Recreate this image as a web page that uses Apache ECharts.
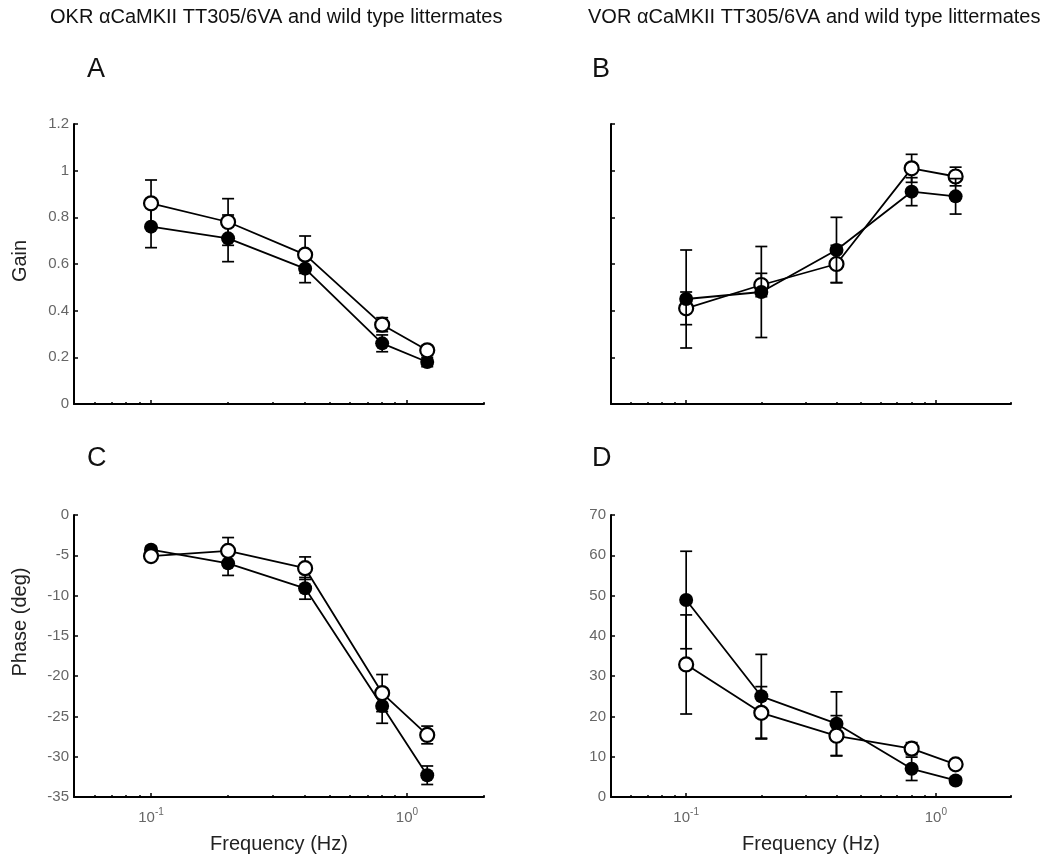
<!DOCTYPE html>
<html>
<head>
<meta charset="utf-8">
<script src="https://cdn.jsdelivr.net/npm/echarts@6/dist/echarts.min.js"></script>
<style>
  html, body { margin: 0; padding: 0; background: #fff; }
  #chart { width: 1055px; height: 859px; }
</style>
</head>
<body>
<div id="chart"></div>
<script>
// stimulus frequencies (Hz)
const freq = [0.1, 0.2, 0.4, 0.8, 1.2];

// A: OKR gain
const okrGainFilled = [0.76, 0.71, 0.58, 0.26, 0.18];
const okrGainFilledErr = [0.09, 0.10, 0.06, 0.036, 0.02];
const okrGainOpen = [0.86, 0.78, 0.64, 0.34, 0.23];
const okrGainOpenErr = [0.10, 0.10, 0.08, 0.03, 0.02];

// B: VOR gain
const vorGainFilled = [0.45, 0.48, 0.66, 0.91, 0.89];
const vorGainFilledErr = [0.21, 0.195, 0.14, 0.06, 0.076];
const vorGainOpen = [0.41, 0.51, 0.60, 1.01, 0.975];
const vorGainOpenErr = [0.07, 0.05, 0.08, 0.06, 0.04];

// C: OKR phase (deg)
const okrPhaseFilled = [-4.3, -6.0, -9.1, -23.7, -32.3];
const okrPhaseFilledErr = [0.4, 1.5, 1.35, 2.15, 1.15];
const okrPhaseOpen = [-5.1, -4.45, -6.6, -22.1, -27.3];
const okrPhaseOpenErr = [0.3, 1.65, 1.4, 2.3, 1.1];

// D: VOR phase (deg)
const vorPhaseFilled = [48.9, 25.0, 18.2, 7.0, 4.1];
const vorPhaseFilledErr = [12.1, 10.4, 7.9, 2.9, 0.8];
const vorPhaseOpen = [32.9, 20.9, 15.2, 12.0, 8.1];
const vorPhaseOpenErr = [12.3, 6.5, 5.0, 1.5, 0.8];

// log axis ticks
const freqMin = 0.05;
const freqMax = 2;
const minorTicks = [0.06, 0.07, 0.08, 0.09, 0.2, 0.3, 0.4, 0.5, 0.6, 0.7, 0.8, 0.9, 2];
const majorTicks = [0.1, 1];

const FONT = '"Liberation Sans", Arial, sans-serif';
const lg = (v) => Math.log10(v);

const chart = echarts.init(document.getElementById('chart'), null, { renderer: 'canvas' });

const grids = [
  { left: 74, top: 124, width: 410, height: 280 },
  { left: 611, top: 124, width: 400, height: 280 },
  { left: 74, top: 515, width: 410, height: 282 },
  { left: 611, top: 515, width: 400, height: 282 },
];

const xAxes = [];
grids.forEach((g, i) => {
  const showLabels = i >= 2;
  xAxes.push({
    type: 'value',
    gridIndex: i,
    position: 'bottom',
    min: lg(freqMin),
    max: lg(freqMax),
    name: showLabels ? 'Frequency (Hz)' : '',
    nameLocation: 'middle',
    nameGap: 37,
    nameTextStyle: { fontFamily: FONT, fontSize: 20, color: '#222' },
    axisLine: { show: true, onZero: false, lineStyle: { color: '#000', width: 2 } },
    axisTick: {
      show: true, inside: true, length: 2,
      customValues: minorTicks.map(lg),
      lineStyle: { color: '#000', width: 1.5 },
    },
    axisLabel: {
      show: showLabels,
      customValues: majorTicks.map(lg),
      margin: 10,
      formatter: (v) => `{b|10}{s|${Math.round(v)}}`,
      rich: {
        b: { fontFamily: FONT, fontSize: 15, color: '#666' },
        s: { fontFamily: FONT, fontSize: 10, color: '#666', padding: [0, 0, 12, 0] },
      },
    },
    splitLine: { show: false },
  });
  // overlay axis carrying the longer decade ticks
  xAxes.push({
    type: 'value',
    gridIndex: i,
    position: 'bottom',
    min: lg(freqMin),
    max: lg(freqMax),
    axisLine: { show: false, onZero: false },
    axisTick: {
      show: true, inside: true, length: 4,
      customValues: majorTicks.map(lg),
      lineStyle: { color: '#000', width: 1.5 },
    },
    axisLabel: { show: false },
    splitLine: { show: false },
  });
});

const yRanges = [
  { min: 0, max: 1.2, interval: 0.2, labels: true },
  { min: 0, max: 1.2, interval: 0.2, labels: false },
  { min: -35, max: 0, interval: 5, labels: true },
  { min: 0, max: 70, interval: 10, labels: true },
];

const yAxes = yRanges.map((r, i) => ({
  type: 'value',
  gridIndex: i,
  min: r.min,
  max: r.max,
  interval: r.interval,
  axisLine: { show: true, onZero: false, lineStyle: { color: '#000', width: 2 } },
  axisTick: { show: true, inside: true, length: 4, lineStyle: { color: '#000', width: 1.5 } },
  axisLabel: {
    show: r.labels, margin: 5, fontFamily: FONT, fontSize: 15, color: '#666',
  },
  splitLine: { show: false },
}));

function errorBar(params, api) {
  const x = api.value(0);
  const top = api.coord([x, api.value(2)]);
  const bot = api.coord([x, api.value(1)]);
  const w = 6;
  const style = { stroke: '#000', lineWidth: 1.7 };
  return {
    type: 'group',
    children: [
      { type: 'line', shape: { x1: top[0], y1: top[1], x2: bot[0], y2: bot[1] }, style },
      { type: 'line', shape: { x1: top[0] - w, y1: top[1], x2: top[0] + w, y2: top[1] }, style },
      { type: 'line', shape: { x1: bot[0] - w, y1: bot[1], x2: bot[0] + w, y2: bot[1] }, style },
    ],
  };
}

function groupSeries(panel, vals, errs, filled, z) {
  const xIdx = panel * 2;
  return [
    {
      type: 'custom',
      xAxisIndex: xIdx,
      yAxisIndex: panel,
      renderItem: errorBar,
      clip: false,
      z,
      encode: { x: 0, y: [1, 2] },
      data: freq.map((f, k) => [lg(f), vals[k] - errs[k], vals[k] + errs[k]]),
    },
    {
      type: 'line',
      xAxisIndex: xIdx,
      yAxisIndex: panel,
      z: z + 1,
      symbol: 'circle',
      symbolSize: 14,
      showSymbol: true,
      animation: false,
      lineStyle: { color: '#000', width: 1.8 },
      itemStyle: filled
        ? { color: '#000', borderColor: '#000', borderWidth: 0 }
        : { color: '#fff', borderColor: '#000', borderWidth: 2.2 },
      emphasis: { disabled: true },
      data: freq.map((f, k) => [lg(f), vals[k]]),
    },
  ];
}

const series = [
  // A: open drawn over filled
  ...groupSeries(0, okrGainFilled, okrGainFilledErr, true, 2),
  ...groupSeries(0, okrGainOpen, okrGainOpenErr, false, 4),
  // B: filled drawn over open
  ...groupSeries(1, vorGainOpen, vorGainOpenErr, false, 2),
  ...groupSeries(1, vorGainFilled, vorGainFilledErr, true, 4),
  // C
  ...groupSeries(2, okrPhaseFilled, okrPhaseFilledErr, true, 2),
  ...groupSeries(2, okrPhaseOpen, okrPhaseOpenErr, false, 4),
  // D
  ...groupSeries(3, vorPhaseFilled, vorPhaseFilledErr, true, 2),
  ...groupSeries(3, vorPhaseOpen, vorPhaseOpenErr, false, 4),
];

const textEl = (x, y, text, size, extra) => ({
  type: 'text',
  x,
  y,
  ...extra,
  style: {
    text, fontFamily: FONT, fontSize: size, fill: '#111', ...(extra && extra.style),
  },
});

const rotated = { rotation: Math.PI / 2, style: { align: 'center', verticalAlign: 'middle', fill: '#222' } };

const graphic = [
  textEl(50, 7, 'OKR \u03b1CaMKII TT305/6VA and wild type littermates', 20),
  textEl(588, 7, 'VOR \u03b1CaMKII TT305/6VA and wild type littermates', 20),
  textEl(87, 56, 'A', 27),
  textEl(592, 56, 'B', 27),
  textEl(87, 445, 'C', 27),
  textEl(592, 445, 'D', 27),
  textEl(20, 261, 'Gain', 20, rotated),
  textEl(20, 622, 'Phase (deg)', 20, rotated),
];

chart.setOption({
  animation: false,
  backgroundColor: '#fff',
  grid: grids.map((g) => ({ ...g, containLabel: false, outerBoundsMode: 'none' })),
  xAxis: xAxes,
  yAxis: yAxes,
  series,
  graphic,
});
</script>
</body>
</html>
